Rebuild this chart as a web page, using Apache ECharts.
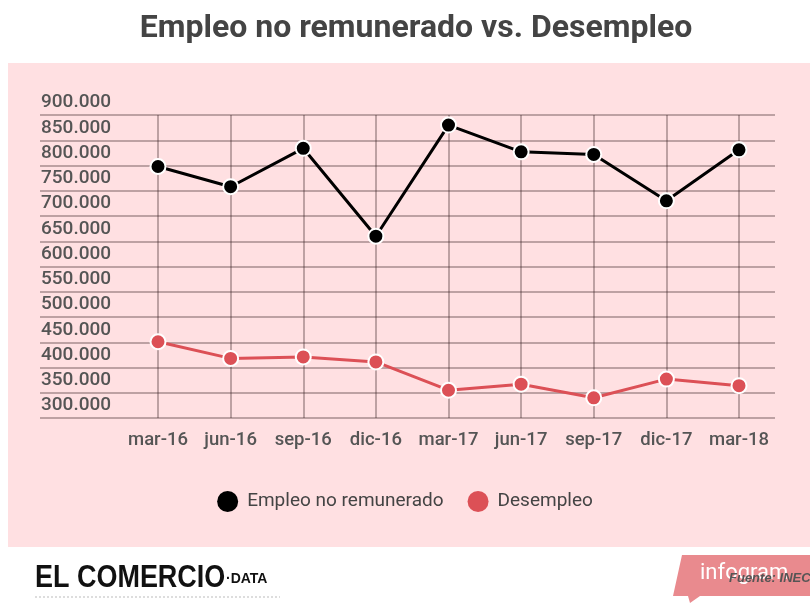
<!DOCTYPE html>
<html>
<head>
<meta charset="utf-8">
<script src="https://cdn.jsdelivr.net/npm/echarts@6/dist/echarts.min.js"></script>
<style>
  html, body { margin: 0; padding: 0; background: #fff; }
  #chart { width: 810px; height: 603px; }
</style>
</head>
<body>
<div id="chart"></div>
<script>
// datos
const categories = ['mar-16', 'jun-16', 'sep-16', 'dic-16', 'mar-17', 'jun-17', 'sep-17', 'dic-17', 'mar-18'];
const empleoNoRemunerado = [798000, 758000, 834000, 660000, 880000, 827000, 822000, 730000, 831000];
const desempleo = [451000, 418000, 421000, 411000, 355000, 367000, 340000, 377000, 364000];
const yMin = 300000, yMax = 900000, yStep = 50000;

const chart = echarts.init(document.getElementById('chart'));

function fmt(v) {
  // 900000 -> 900.000
  return String(v).replace(/\B(?=(\d{3})+(?!\d))/g, '.');
}

const labelFont = 'Roboto, "Noto Sans", sans-serif';

let option = {
  backgroundColor: '#fff',
  animation: false,
  title: {
    text: 'Empleo no remunerado vs. Desempleo',
    left: 411,
    textAlign: 'center',
    top: 8,
    textStyle: { fontFamily: labelFont, fontSize: 32, fontWeight: 'bold', color: '#444' }
  },
  legend: {
    top: 486,
    left: 'center',
    icon: 'circle',
    itemWidth: 21,
    itemHeight: 21,
    itemGap: 24,
    itemStyle: { borderWidth: 0 },
    textStyle: { fontFamily: labelFont, fontSize: 19, color: '#444', padding: [0, 0, 0, 4] },
    data: ['Empleo no remunerado', 'Desempleo']
  },
  graphic: [
    // fondo rosa
    { type: 'rect', z: -10, shape: { x: 8, y: 63, width: 802, height: 484 }, style: { fill: '#ffe0e2' } },
    // logo
    { type: 'text', left: 35, top: 563, scaleX: 0.87,
      style: { text: 'EL COMERCIO', font: 'bold 31px "Liberation Sans", Arial, sans-serif', fill: '#111' } },
    { type: 'text', left: 226, top: 572,
      style: { text: '·DATA', font: 'bold 14px "Liberation Sans", Arial, sans-serif', fill: '#111' } },
    { type: 'line', shape: { x1: 35, y1: 597, x2: 280, y2: 597 },
      style: { stroke: '#bbb', lineWidth: 1, lineDash: [2, 2] } },
    // insignia infogram
    { type: 'polygon', shape: { points: [[682, 555], [810, 555], [810, 596], [700, 596], [690, 603], [688, 596], [673, 596]] },
      style: { fill: '#e98a8e' } },
    { type: 'text', left: 700, top: 562,
      style: { text: 'infogram', font: '22px Roboto, sans-serif', fill: '#fff' } },
    { type: 'text', left: 729, top: 572,
      style: { text: 'Fuente: INEC', font: 'italic bold 13px "Liberation Sans", sans-serif', fill: '#555' } }
  ],
  grid: [
    { left: 158, right: 71, top: 115, bottom: 185 },
    { left: 40, right: 35, top: 115, bottom: 185 }
  ],
  xAxis: [
    {
      type: 'category', gridIndex: 0, data: categories, boundaryGap: false,
      axisLine: { show: false }, axisTick: { show: false },
      splitLine: { show: true, interval: 0, lineStyle: { color: 'rgba(60,40,40,0.45)', width: 1.5 } },
      axisLabel: { interval: 0, hideOverlap: false, margin: 13, fontFamily: labelFont, fontSize: 18.5, fontWeight: 500, color: '#555' }
    },
    { type: 'value', gridIndex: 1, show: false }
  ],
  yAxis: [
    { type: 'value', gridIndex: 0, min: yMin, max: yMax, interval: yStep, show: false },
    {
      type: 'value', gridIndex: 1, min: yMin, max: yMax, interval: yStep,
      axisLine: { show: false }, axisTick: { show: false },
      splitLine: { show: true, lineStyle: { color: 'rgba(60,40,40,0.45)', width: 1.5 } },
      axisLabel: {
        inside: true, margin: 1, verticalAlign: 'bottom', padding: [0, 0, 3, 0],
        fontFamily: labelFont, fontSize: 19, fontWeight: 500, color: '#555',
        formatter: fmt
      }
    }
  ],
  series: [
    {
      name: 'Empleo no remunerado', type: 'line', xAxisIndex: 0, yAxisIndex: 0,
      data: empleoNoRemunerado, color: '#000',
      symbol: 'circle', symbolSize: 15,
      lineStyle: { width: 3, color: '#000' },
      itemStyle: { color: '#000', borderColor: '#fff', borderWidth: 2 }
    },
    {
      name: 'Desempleo', type: 'line', xAxisIndex: 0, yAxisIndex: 0,
      data: desempleo, color: '#dc5056',
      symbol: 'circle', symbolSize: 15,
      lineStyle: { width: 3, color: '#dc5056' },
      itemStyle: { color: '#dc5056', borderColor: '#fff', borderWidth: 2 }
    }
  ]
};

chart.setOption(option);
</script>
</body>
</html>
